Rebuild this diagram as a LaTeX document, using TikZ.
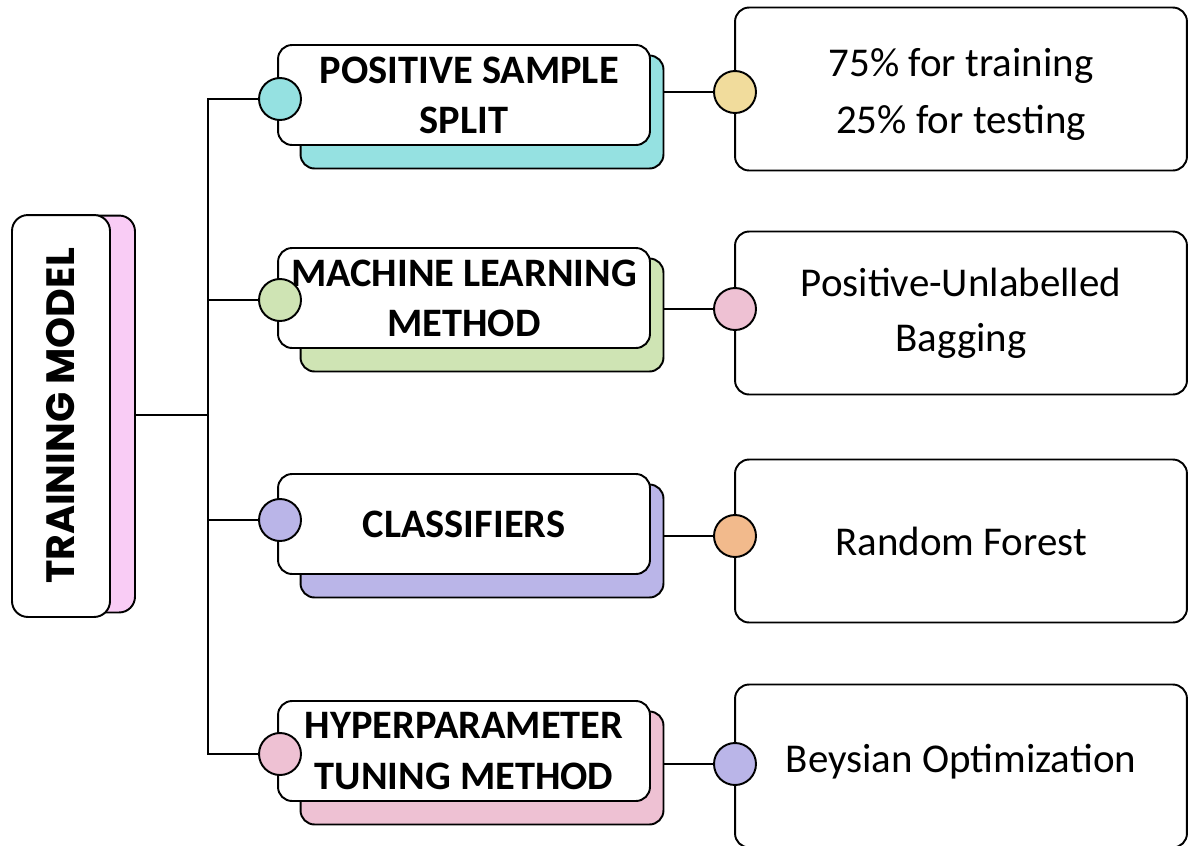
\documentclass[tikz,border=0pt]{standalone}
\usepackage{fontspec}
\setmainfont{Carlito}
\newfontfamily\titlefont{Poppins}
\usepackage{xcolor}
\usetikzlibrary{positioning}

\definecolor{rootpink}{HTML}{F9CCF5}
\definecolor{splitteal}{HTML}{95E1E1}
\definecolor{methodgreen}{HTML}{CFE4B4}
\definecolor{classpurple}{HTML}{BAB5E8}
\definecolor{tunepink}{HTML}{EEC1D3}
\definecolor{dotyellow}{HTML}{F1DC9C}
\definecolor{dotorange}{HTML}{F2BA8C}

\begin{document}
\begin{tikzpicture}[
  x=0.02cm, y=-0.02cm,
  line width=1.1pt,
  card/.style={draw, fill=white, rounded corners=8pt, align=center},
  backing/.style={draw, rounded corners=8pt, minimum width=7.26cm, minimum height=2.26cm},
  midbox/.style={card, minimum width=7.44cm, minimum height=2cm, inner sep=0pt,
                 font=\bfseries\fontsize{23}{28.5}\selectfont},
  infobox/.style={card, minimum width=9.04cm, minimum height=3.26cm,
                  font=\fontsize{23.3}{31.5}\selectfont},
  dot/.style={circle, draw, minimum size=0.84cm, inner sep=0pt},
  link/.style={draw, line width=1.1pt}
]
\useasboundingbox (0,0) rectangle (1188,846);

% root of the tree, with its coloured backing card
\node[draw, fill=rootpink, rounded corners=9pt, minimum width=2cm, minimum height=7.94cm] (rootback) at (85,414) {};
\node[card, rounded corners=9pt, minimum width=1.96cm, minimum height=8.04cm] (root) at (61,416) {};
\node[rotate=90, font=\titlefont\bfseries\fontsize{22.5}{22.5}\selectfont] (title) at (root.center) {TRAINING MODEL};

% backing cards of the four steps
\node[backing, fill=splitteal]   (back1) at (482,112) {};
\node[backing, fill=methodgreen] (back2) at (482,315) {};
\node[backing, fill=classpurple] (back3) at (482,541) {};
\node[backing, fill=tunepink]    (back4) at (482,768) {};

% result cards on the right
\node[infobox] (info1) at (961,89)  {\raisebox{-3pt}[\dimexpr\height+3pt\relax][\dimexpr\depth+3pt\relax]{%
  \begin{tabular}{@{}c@{}}75\% for training\\[1pt]25\% for testing\end{tabular}}};
\node[infobox] (info2) at (961,313) {Positive-Unlabelled\\Bagging};
\node[infobox] (info3) at (961,541) {Random Forest};
\node[infobox] (info4) at (961,766) {\raisebox{9pt}{Beysian Optimization}};

% connector dots of the result cards
\node[dot, fill=dotyellow]   (rdot1) at (735,92)  {};
\node[dot, fill=tunepink]    (rdot2) at (735,309) {};
\node[dot, fill=dotorange]   (rdot3) at (735,536) {};
\node[dot, fill=classpurple] (rdot4) at (735,764) {};

% step cards to result cards
\draw[link] (back1.east |- rdot1) -- (rdot1.west);
\draw[link] (back2.east |- rdot2) -- (rdot2.west);
\draw[link] (back3.east |- rdot3) -- (rdot3.west);
\draw[link] (back4.east |- rdot4) -- (rdot4.west);

% step cards
\node[midbox] (step1) at (464,95)  {\hspace*{6pt}POSITIVE SAMPLE\\SPLIT};
\node[midbox] (step2) at (464,298) {MACHINE LEARNING\\METHOD};
\node[midbox] (step3) at (464,524) {CLASSIFIERS};
\node[midbox] (step4) at (464,751) {HYPERPARAMETER\\TUNING METHOD};

\node[dot, fill=splitteal]   (dot1) at (280,99)  {};
\node[dot, fill=methodgreen] (dot2) at (280,300) {};
\node[dot, fill=classpurple] (dot3) at (280,520) {};
\node[dot, fill=tunepink]    (dot4) at (280,754) {};

% trunk from the root to every step
\coordinate (trunk) at (208,415);
\draw[link] (rootback.east |- trunk) -- (trunk);
\draw[link] (dot1.west) -- (dot1.west -| trunk) -- (dot4.west -| trunk) -- (dot4.west);
\draw[link] (dot2.west -| trunk) -- (dot2.west);
\draw[link] (dot3.west -| trunk) -- (dot3.west);
\end{tikzpicture}
\end{document}
